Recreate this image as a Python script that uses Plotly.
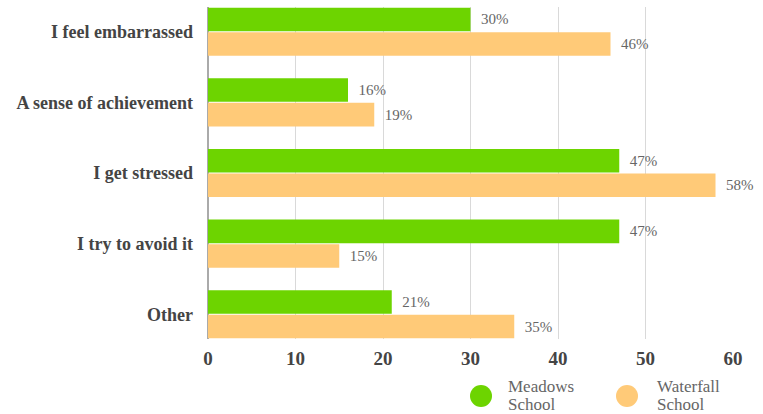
import plotly.graph_objects as go

categories = ["I feel embarrassed", "A sense of achievement", "I get stressed", "I try to avoid it", "Other"]
meadows = [30, 16, 47, 47, 21]
waterfall = [46, 19, 58, 15, 35]
series_names = [["Meadows", "School"], ["Waterfall", "School"]]
x_ticks = [0, 10, 20, 30, 40, 50, 60]

GREEN = "#6DD400"
ORANGE = "#FFCA78"
SERIF = "Liberation Serif, Times New Roman, serif"
W, H = 763, 414
ML, MR, MT, MB = 208, 30, 7, 75

fig = go.Figure()
for vals, col in [(meadows, GREEN), (waterfall, ORANGE)]:
    fig.add_trace(go.Bar(
        y=categories, x=vals, orientation="h",
        marker=dict(color=col, line=dict(width=0)),
        text=[f"{v}%" for v in vals],
        texttemplate="  %{text}",
        textposition="outside",
        cliponaxis=False,
        textfont=dict(family=SERIF, size=15, color="#666666"),
        showlegend=False,
    ))

fig.update_layout(
    width=W, height=H,
    margin=dict(l=ML, r=MR, t=MT, b=MB),
    paper_bgcolor="white", plot_bgcolor="white",
    barmode="group", bargap=0.305, bargroupgap=0.04,
    xaxis=dict(range=[0, 60], tickvals=x_ticks, showgrid=True, gridcolor="#d9d9d9", gridwidth=1,
               zeroline=True, zerolinecolor="#aaaaaa", zerolinewidth=1.5,
               tickfont=dict(family=SERIF, size=19, color="#444444"),
               ticks="", ticklabelstandoff=6, fixedrange=True),
    yaxis=dict(categoryorder="array", categoryarray=categories, range=[4.35, -0.35],
               tickfont=dict(family=SERIF, size=18, color="#444444"),
               ticks="", ticklabelstandoff=14, showgrid=False),
    font=dict(family=SERIF),
)
fig.update_yaxes(ticktext=[f"<b>{c}</b>" for c in categories], tickvals=categories)
fig.update_xaxes(ticktext=[f"<b>{t}</b>" for t in x_ticks])

# custom legend
legend_items = [(series_names[0], GREEN, 481, 506), (series_names[1], ORANGE, 627, 655)]
ly = 396
r = 11
pw, ph = W - ML - MR, H - MT - MB
for lines, col, cx, tx in legend_items:
    fig.add_shape(type="circle", xref="paper", yref="paper",
                  x0=(cx - r - ML) / pw, x1=(cx + r - ML) / pw,
                  y0=(H - MB - (ly + r)) / ph, y1=(H - MB - (ly - r)) / ph,
                  fillcolor=col, line=dict(width=0))
    for i, line in enumerate(lines):
        yy = 386 + i * 18
        fig.add_annotation(xref="paper", yref="paper",
                           x=(tx - ML) / pw, y=(H - MB - yy) / ph,
                           xanchor="left", yanchor="middle", showarrow=False, align="left",
                           text=line, font=dict(family=SERIF, size=17, color="#666666"))

fig.write_html("out.html")
